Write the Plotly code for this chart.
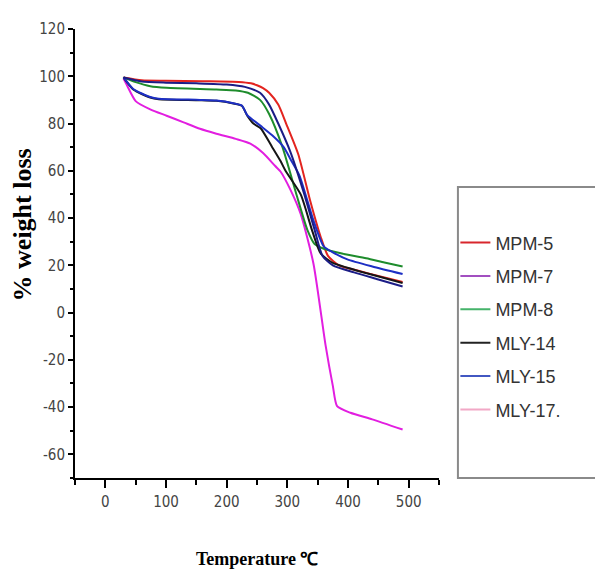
import plotly.graph_objects as go

# ---- data ----
names = ["MPM-5", "MPM-7", "MPM-8", "MLY-14", "MLY-15", "MLY-17."]
curve_colors = ["#e3241f", "#e21ee0", "#1e8c2c", "#151515", "#1d2fc4", "#1b1c86"]
legend_colors = ["#d8262c", "#a24fc0", "#45b36a", "#222222", "#4257c2", "#f2a8c6"]

t_mpm5 = [30, 60, 100, 160, 220, 240, 250, 260, 270, 285, 298, 318, 338, 355, 367, 385, 420, 450, 490]
w_mpm5 = [99.5, 98.3, 98.1, 97.9, 97.6, 97.0, 96.2, 95.0, 93.0, 88.0, 80.0, 67.0, 47.0, 32.0, 24.0, 20.0, 17.5, 15.5, 13.0]

t_mpm7 = [30, 36, 50, 74, 101, 129, 156, 183, 215, 239, 260, 280, 289, 305, 322, 343, 363, 375, 382, 404, 440, 490]
w_mpm7 = [99.0, 96.0, 89.5, 86.0, 83.3, 80.5, 77.8, 75.7, 73.5, 71.5, 67.5, 62.0, 59.6, 52.0, 41.7, 20.8, -13.8, -31.0, -39.6, -42.4, -45.2, -49.5]

t_mpm8 = [30, 50, 74, 101, 183, 215, 235, 255, 270, 292, 315, 333, 345, 360, 390, 430, 460, 490]
w_mpm8 = [99.5, 97.5, 95.8, 95.1, 94.4, 94.0, 93.0, 90.0, 84.0, 70.0, 50.0, 35.0, 29.0, 27.0, 25.0, 23.0, 21.2, 19.5]

t_mly14 = [30, 46, 74, 88, 156, 183, 211, 225, 234, 244, 256, 275, 289, 297, 322, 341, 355, 375, 399, 440, 490]
w_mly14 = [99.5, 94.4, 91.0, 90.3, 89.9, 89.6, 88.5, 87.5, 83.3, 80.0, 78.0, 70.0, 64.0, 60.0, 50.0, 34.6, 25.0, 21.0, 19.0, 16.0, 12.5]

t_mly15 = [30, 46, 74, 88, 156, 183, 211, 225, 234, 256, 275, 294, 305, 320, 343, 360, 375, 399, 440, 490]
w_mly15 = [99.5, 94.6, 91.2, 90.5, 90.0, 89.7, 88.6, 87.6, 83.5, 79.0, 75.0, 70.0, 65.0, 58.0, 39.0, 28.0, 25.5, 22.5, 19.5, 16.3]

t_mly17 = [30, 60, 100, 150, 200, 230, 255, 270, 285, 305, 328, 345, 358, 375, 410, 450, 490]
w_mly17 = [99.5, 97.8, 97.3, 97.0, 96.5, 95.5, 93.0, 88.0, 80.0, 68.0, 50.0, 35.0, 24.0, 20.0, 17.0, 14.0, 11.0]

temps = [t_mpm5, t_mpm7, t_mpm8, t_mly14, t_mly15, t_mly17]
weights = [w_mpm5, w_mpm7, w_mpm8, w_mly14, w_mly15, w_mly17]

x_ticks = [0, 100, 200, 300, 400, 500]
x_ticktext = ["0", "100", "200", "300", "400", "500"]
y_ticks = [-60, -40, -20, 0, 20, 40, 60, 80, 100, 120]
y_ticktext = ["-60", "-40", "-20", "0", "20", "40", "60", "80", "100", "120"]

fig = go.Figure()
for name, col, tx, wy in zip(names, curve_colors, temps, weights):
    fig.add_trace(go.Scatter(x=tx, y=wy, mode="lines", name=name, showlegend=False,
                             line=dict(color=col, width=2, shape="spline", smoothing=0.6)))

# legend entries (legend colours differ from the plotted curves in the original)
for i, (name, col) in enumerate(zip(names, legend_colors)):
    fig.add_trace(go.Scatter(x=[None], y=[None], mode="lines", name=name,
                             legendgroup="g%d" % i, line=dict(color=col, width=2)))

tick_font = dict(family="Liberation Sans Narrow, DejaVu Sans Condensed, Arial Narrow, sans-serif",
                 size=15, color="#444444")

# page body has an 8px margin: figure is 595x563 so it ends at the window edge
fig.update_layout(
    width=595, height=563,
    margin=dict(l=67, r=164, t=15, b=93),
    paper_bgcolor="white", plot_bgcolor="white",
    xaxis=dict(range=[-50, 550], tickvals=x_ticks, ticktext=x_ticktext, showgrid=False, zeroline=False,
               showline=True, linecolor="black", linewidth=2,
               ticks="outside", ticklen=8, tickwidth=2, tickcolor="black",
               minor=dict(dtick=50, tick0=-50, ticks="outside", ticklen=5, tickwidth=2, tickcolor="black"),
               tickfont=tick_font, ticklabelstandoff=1),
    yaxis=dict(range=[-70, 120], tickvals=y_ticks, ticktext=y_ticktext, showgrid=False, zeroline=False,
               showline=True, linecolor="black", linewidth=2,
               ticks="outside", ticklen=5, tickwidth=2, tickcolor="black",
               minor=dict(dtick=10, tick0=-70, ticks="outside", ticklen=3, tickwidth=2, tickcolor="black"),
               tickfont=tick_font, ticklabelstandoff=0),
    showlegend=True,
    legend=dict(x=1.045, y=0.565, xanchor="left", yanchor="top",
                bgcolor="rgba(0,0,0,0)", borderwidth=0, tracegroupgap=7,
                font=dict(family="Liberation Sans, Arial, sans-serif", size=18, color="#333333")),
    shapes=[dict(type="rect", xref="paper", yref="paper", x0=1.052, x1=1.7, y0=0.0, y1=0.648,
                 line=dict(color="#8a8a8a", width=2), fillcolor="rgba(0,0,0,0)")],
    annotations=[
        dict(text="<b>% weight loss</b>", xref="paper", yref="paper", x=-0.145, y=0.563,
             textangle=-90, showarrow=False, xanchor="center", yanchor="middle",
             font=dict(family="Liberation Serif, Times New Roman, serif", size=26, color="black")),
        dict(text="<b>Temperature ℃</b>", xref="paper", yref="paper", x=0.5, y=-0.18,
             showarrow=False, xanchor="center", yanchor="middle",
             font=dict(family="Liberation Serif, Times New Roman, serif", size=18, color="black")),
    ],
)

fig.write_html("out.html")
